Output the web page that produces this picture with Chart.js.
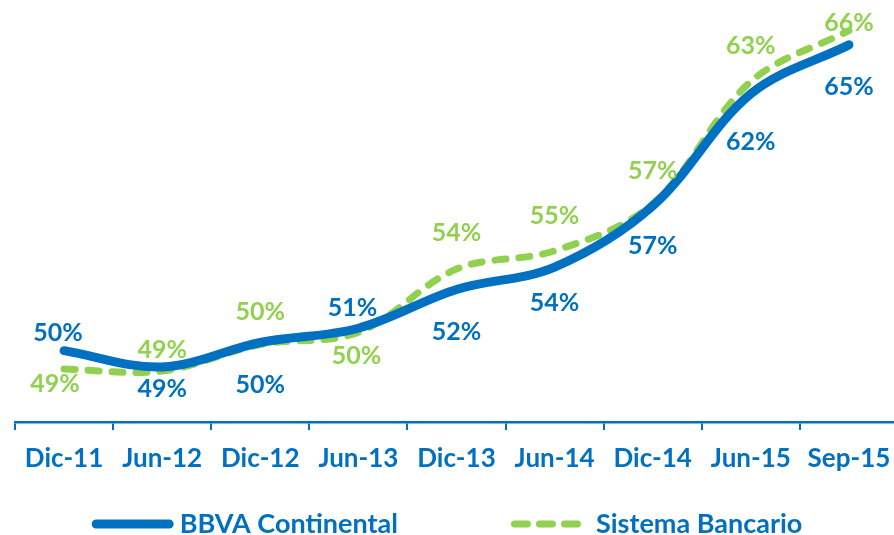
<!DOCTYPE html>
<html>
<head>
<meta charset="utf-8">
<script src="https://cdn.jsdelivr.net/npm/chart.js@4.4.1/dist/chart.umd.min.js"></script>
<style>
  html, body { margin: 0; padding: 0; background: #ffffff; overflow: hidden; width: 894px; height: 535px; }
  #wrap { position: relative; width: 898px; height: 535px; }
</style>
</head>
<body>
<div id="wrap"><canvas id="chart" width="898" height="535"></canvas></div>
<script>
// ---- Data ----
const categories = ['Dic-11', 'Jun-12', 'Dic-12', 'Jun-13', 'Dic-13', 'Jun-14', 'Dic-14', 'Jun-15', 'Sep-15'];
const seriesNames = ['BBVA Continental', 'Sistema Bancario'];
// plotted line values (%)
const bbvaValues    = [50.0, 49.2, 50.4, 51.1, 53.0, 54.1, 57.1, 62.6, 65.0];
const sistemaValues = [49.1, 49.0, 50.3, 50.9, 54.0, 54.9, 57.2, 63.2, 65.7];
// data labels shown on the chart (%)
const bbvaLabels    = [50, 49, 50, 51, 52, 54, 57, 62, 65];
const sistemaLabels = [49, 49, 50, 50, 54, 55, 57, 63, 66];

// ---- Styling ----
const BLUE = '#0070C0';
const GREEN = '#92D050';
const FONT = 'Lato, Carlito, "Open Sans", sans-serif';

// label placement relative to each point: [dx, dy] of label centre
const labelOffsets = [
  [[-6,-19],[0,21],[0,42],[-6,-21],[0,42],[0,35],[0,39],[0,47],[0,41]],
  [[-9,14],[0,-22],[0,-34],[-2,23],[0,-37],[0,-36],[0,-34],[0,-37],[0,-9]]
];
const labelFontSize = 25;
const legendStyle = {
  centerX: 447, centerY: 523, fontSize: 27, itemGap: 113,
  swatch: [82, 70], textGap: [6, 15]
};

const pointLabelPlugin = {
  id: 'pointLabels',
  afterDatasetsDraw(chart) {
    const ctx = chart.ctx;
    ctx.save();
    ctx.font = 'bold ' + labelFontSize + 'px ' + FONT;
    ctx.textAlign = 'center';
    ctx.textBaseline = 'alphabetic';
    const capHalf = labelFontSize * 0.72 / 2;
    chart.data.datasets.forEach((ds, di) => {
      const meta = chart.getDatasetMeta(di);
      ctx.fillStyle = ds.borderColor;
      meta.data.forEach((pt, i) => {
        const off = labelOffsets[di][i];
        ctx.fillText(ds.pointLabels[i] + '%', pt.x + off[0], pt.y + off[1] + capHalf);
      });
    });
    ctx.restore();
  }
};

const lineLegendPlugin = {
  id: 'lineLegend',
  afterDraw(chart) {
    const ctx = chart.ctx;
    const st = legendStyle;
    ctx.save();
    ctx.font = 'bold ' + st.fontSize + 'px ' + FONT;
    const items = chart.data.datasets.map((ds, i) => ({
      ds, sw: st.swatch[i], gap: st.textGap[i],
      w: st.swatch[i] + st.textGap[i] + ctx.measureText(ds.label).width
    }));
    const total = items.reduce((a, it) => a + it.w, 0) + st.itemGap * (items.length - 1);
    let x = st.centerX - total / 2;
    items.forEach(it => {
      const ds = it.ds;
      const lw = ds.borderWidth;
      ctx.strokeStyle = ds.borderColor;
      ctx.lineWidth = lw;
      ctx.lineCap = 'round';
      ctx.setLineDash(ds.borderDash ? [13, 12] : []);
      ctx.beginPath();
      ctx.moveTo(x + lw / 2, st.centerY + 1);
      ctx.lineTo(x + it.sw - lw / 2, st.centerY + 1);
      ctx.stroke();
      ctx.setLineDash([]);
      ctx.fillStyle = BLUE;
      ctx.textAlign = 'left';
      ctx.textBaseline = 'alphabetic';
      ctx.fillText(ds.label, x + it.sw + it.gap, st.centerY + st.fontSize * 0.72 / 2);
      x += it.w + st.itemGap;
    });
    ctx.restore();
  }
};

new Chart(document.getElementById('chart'), {
  type: 'line',
  data: {
    labels: categories,
    datasets: [
      {
        label: seriesNames[0],
        data: bbvaValues,
        pointLabels: bbvaLabels,
        borderColor: BLUE,
        backgroundColor: BLUE,
        borderWidth: 9,
        borderCapStyle: 'round',
        borderJoinStyle: 'round',
        pointRadius: 0,
        pointHoverRadius: 0,
        tension: 0.35,
        fill: false
      },
      {
        label: seriesNames[1],
        data: sistemaValues,
        pointLabels: sistemaLabels,
        borderColor: GREEN,
        backgroundColor: GREEN,
        borderWidth: 7,
        borderDash: [11, 13],
        borderCapStyle: 'round',
        borderJoinStyle: 'round',
        pointRadius: 0,
        pointHoverRadius: 0,
        tension: 0.35,
        fill: false
      }
    ]
  },
  options: {
    responsive: false,
    devicePixelRatio: 1,
    animation: false,
    layout: { padding: { left: 15, right: 0, top: 0, bottom: 58 } },
    plugins: {
      legend: { display: false },
      tooltip: { enabled: false },
      title: { display: false }
    },
    scales: {
      x: {
        offset: true,
        grid: {
          offset: true,
          drawOnChartArea: false,
          drawTicks: true,
          tickLength: 8,
          color: BLUE,
          lineWidth: 2
        },
        border: { display: true, color: BLUE, width: 2.5 },
        ticks: {
          color: BLUE,
          font: { family: FONT, weight: 'bold', size: 26 },
          padding: 13,
          maxRotation: 0,
          autoSkip: false
        },
        afterFit(scale) {
          scale.height = 55;
          scale.paddingLeft = 0;
          scale.paddingRight = 0;
        }
      },
      y: {
        display: false,
        min: 46.5,
        max: 67.2
      }
    }
  },
  plugins: [pointLabelPlugin, lineLegendPlugin]
});
</script>
</body>
</html>
